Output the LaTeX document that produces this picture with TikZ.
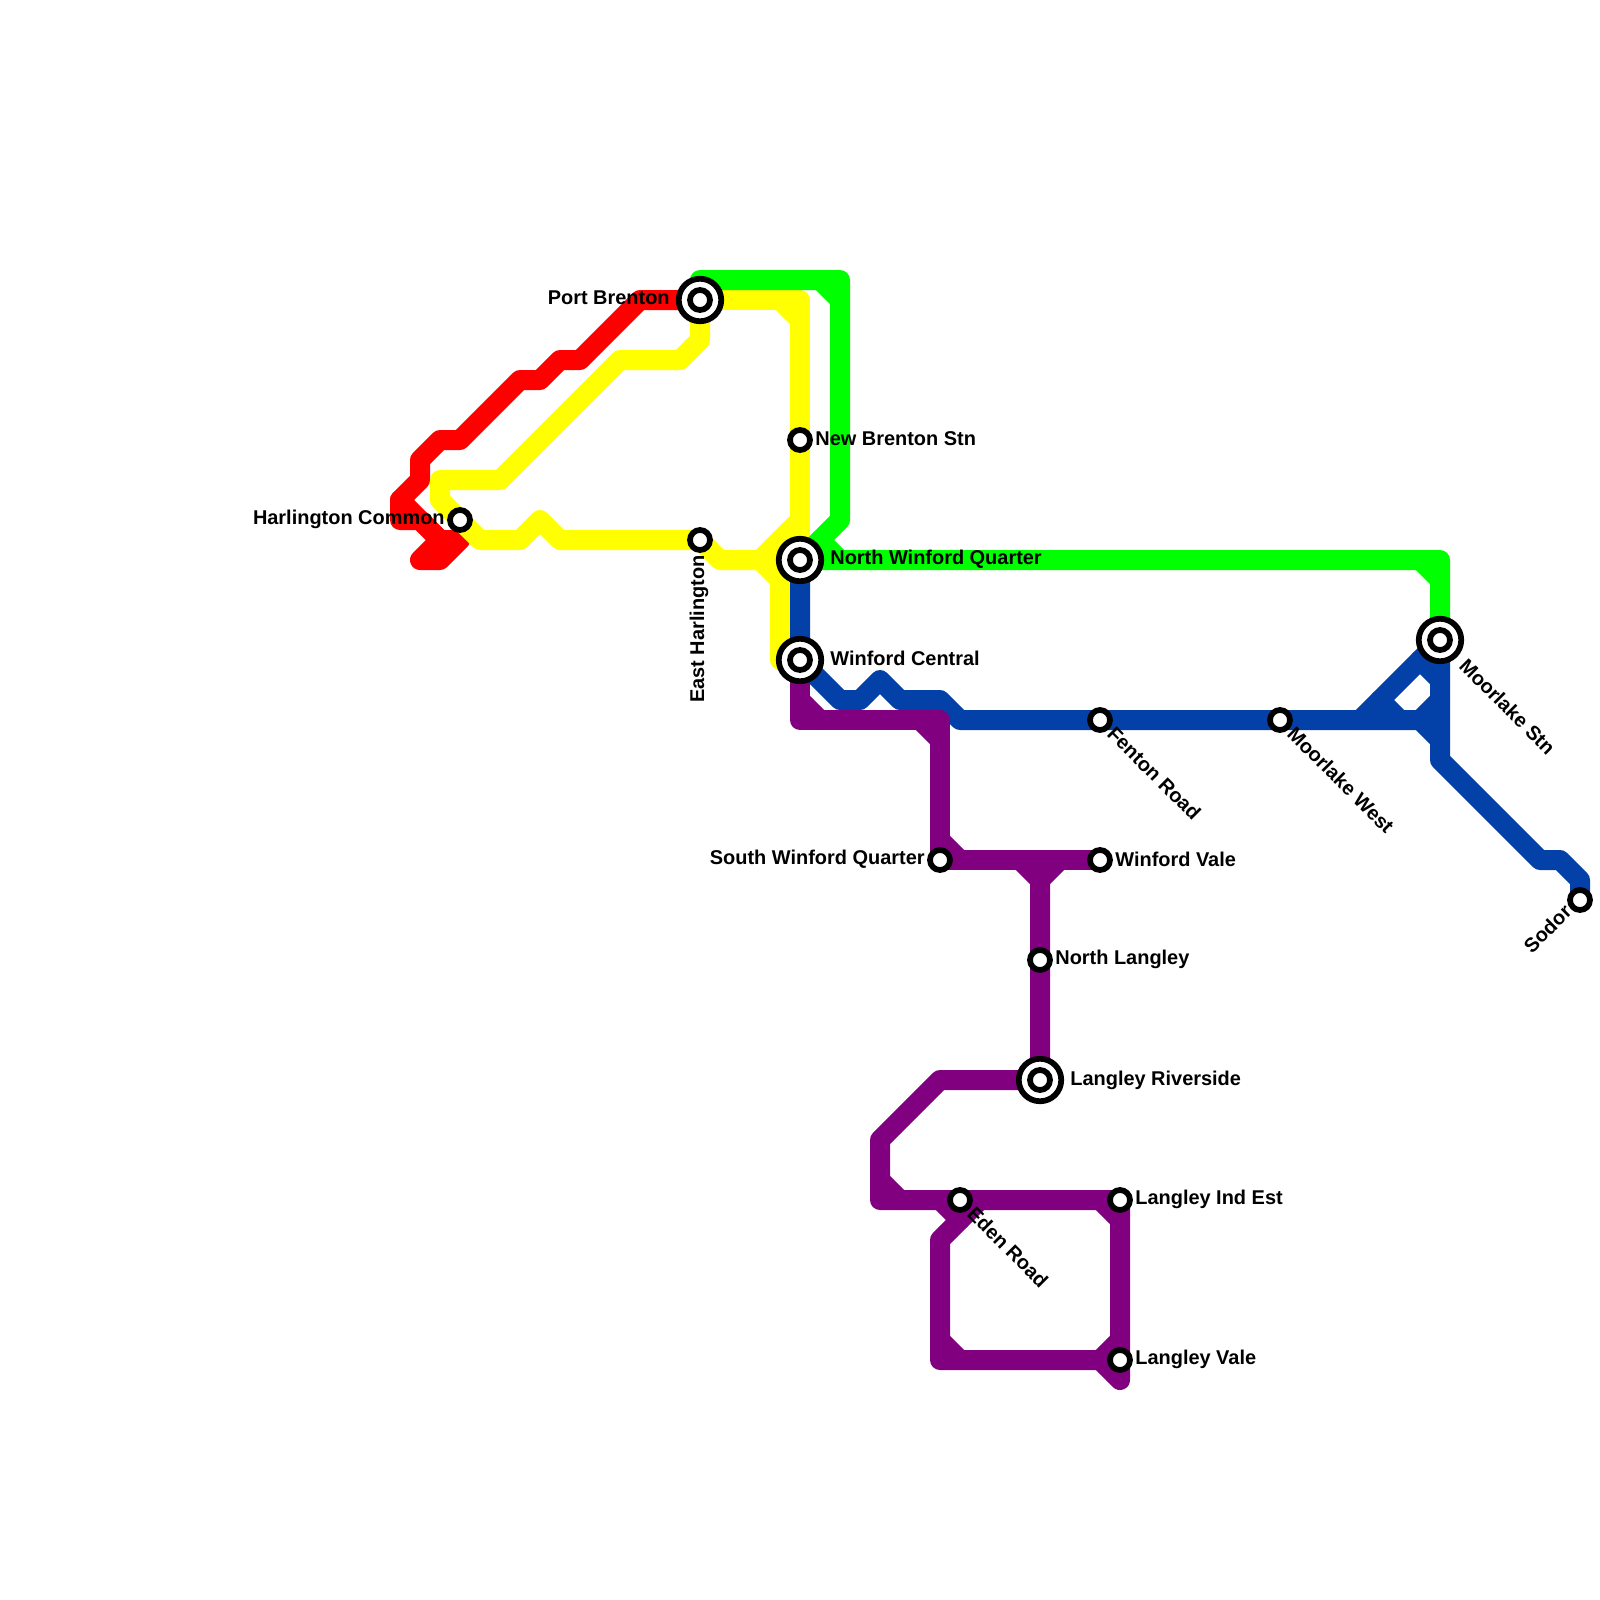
\documentclass[tikz,border=0pt]{standalone}
\usepackage{fontspec}
\setmainfont{Liberation Sans}
\usetikzlibrary{backgrounds}
\definecolor{lineblue}{HTML}{0341A9}
\definecolor{linepurple}{HTML}{800080}
\definecolor{lineyellow}{HTML}{FFFF00}
\definecolor{linegreen}{HTML}{00FF00}
\definecolor{linered}{HTML}{FF0000}
\tikzset{
  stn/.style={circle, draw=black, fill=white, line width=0.115cm, inner sep=0pt, minimum size=0.40cm},
  hub/.style={circle, draw=black, fill=white, line width=0.115cm, inner sep=0pt, minimum size=0.85cm},
  route/.style={line width=0.4cm, line join=round, line cap=round},
  lbl/.style={font=\bfseries\fontsize{11.35pt}{13pt}\selectfont, inner sep=0pt, text=black}
}
\begin{document}
\begin{tikzpicture}[x=0.02cm, y=-0.02cm]
\useasboundingbox (0,0) rectangle (1600,1600);
% interchanges under the small rings
\foreach \n/\x/\y in {portbrenton/700/300,northwinford/800/560,winfordcentral/800/660,moorlakestn/1440/640,langleyriverside/1040/1080} {
  \node[hub] (\n hub) at (\x,\y) {};
}
% all stations
\foreach \n/\x/\y in {portbrenton/700/300,eastharlington/700/540,harlington/460/520,newbrenton/800/440,northwinford/800/560,winfordcentral/800/660,
  fenton/1100/720,moorlakewest/1280/720,moorlakestn/1440/640,sodor/1580/900,southwinford/940/860,winfordvale/1100/860,
  northlangley/1040/960,langleyriverside/1040/1080,eden/960/1200,langleyind/1120/1200,langleyvale/1120/1360} {
  \node[stn] (\n) at (\x,\y) {};
}
\begin{scope}[on background layer]
% red
\draw[route, linered] (portbrenton.center) -- (640,300) -- (580,360) -- (560,360) -- (540,380) -- (520,380) -- (460,440) -- (440,440) -- (420,460) -- (420,480) -- (400,500) -- (440,540) -- (460,540) -- (440,560) -- (420,560) -- (440,540);
\draw[route, linered] (400,500) -- (400,520) -- (420,520) -- (440,540);
% yellow
\draw[route, lineyellow] (portbrenton.center) -- (700,340) -- (680,360) -- (620,360) -- (500,480) -- (440,480) -- (440,500) -- (480,540) -- (520,540) -- (540,520) -- (560,540) -- (eastharlington.center) -- (720,560) -- (northwinford.center);
\draw[route, lineyellow] (portbrenton.center) -- (800,300) -- (newbrenton.center) -- (northwinford.center);
\draw[route, lineyellow] (780,300) -- (800,320);
\draw[route, lineyellow] (800,520) -- (760,560) -- (780,580) -- (780,660) -- (winfordcentral.center);
\draw[route, lineyellow] (780,560) -- (780,580);
% green
\draw[route, linegreen] (portbrenton.center) -- (700,280) -- (840,280) -- (840,520) -- (northwinford.center) -- (1440,560) -- (moorlakestn.center);
\draw[route, linegreen] (820,280) -- (840,300);
\draw[route, linegreen] (820,540) -- (840,560);
\draw[route, linegreen] (1420,560) -- (1440,580);
% blue
\draw[route, lineblue] (northwinford.center) -- (winfordcentral.center) -- (840,700) -- (860,700) -- (880,680) -- (900,700) -- (940,700) -- (960,720) -- (fenton.center) -- (moorlakewest.center) -- (1420,720) -- (1440,740);
\draw[route, lineblue] (moorlakestn.center) -- (1360,720);
\draw[route, lineblue] (moorlakestn.center) -- (1440,760) -- (1540,860) -- (1560,860) -- (1580,880) -- (sodor.center);
\draw[route, lineblue] (1420,660) -- (1440,680);
\draw[route, lineblue] (1440,700) -- (1420,720);
\draw[route, lineblue] (1380,700) -- (1400,720);
% purple
\draw[route, linepurple] (winfordcentral.center) -- (800,720) -- (940,720) -- (southwinford.center) -- (winfordvale.center);
\draw[route, linepurple] (800,700) -- (820,720);
\draw[route, linepurple] (920,720) -- (940,740);
\draw[route, linepurple] (940,840) -- (960,860);
\draw[route, linepurple] (1020,860) -- (1040,880) -- (northlangley.center) -- (langleyriverside.center) -- (940,1080) -- (880,1140) -- (880,1200) -- (langleyind.center) -- (langleyvale.center) -- (1120,1380) -- (1100,1360) -- (940,1360) -- (940,1240) -- (980,1200);
\draw[route, linepurple] (1060,860) -- (1040,880);
\draw[route, linepurple] (880,1180) -- (900,1200);
\draw[route, linepurple] (940,1200) -- (960,1220);
\draw[route, linepurple] (1100,1200) -- (1120,1220);
\draw[route, linepurple] (940,1340) -- (960,1360);
\draw[route, linepurple] (1100,1360) -- (1120,1340);
\end{scope}
% labels
\node[lbl, anchor=east] (portbrentonlbl) at (670,298) {Port Brenton};
\node[lbl, anchor=east] (harlingtonlbl) at (445,519) {Harlington Common};
\node[lbl, anchor=east, rotate=90] (eastharlingtonlbl) at (699,555) {East Harlington};
\node[lbl, anchor=west] (newbrentonlbl) at (815,439) {New Brenton Stn};
\node[lbl, anchor=west] (northwinfordlbl) at (830,559) {North Winford Quarter};
\node[lbl, anchor=west] (winfordcentrallbl) at (830,658) {Winford Central};
\node[lbl, anchor=west, rotate=-45] (fentonlbl) at (1111,730) {Fenton Road};
\node[lbl, anchor=west, rotate=-45] (moorlakewestlbl) at (1291,730) {Moorlake West};
\node[lbl, anchor=west, rotate=-45] (moorlakestnlbl) at (1463,662) {Moorlake Stn};
\node[lbl, anchor=east, rotate=45] (sodorlbl) at (1568,908) {Sodor};
\node[lbl, anchor=east] (southwinfordlbl) at (925,859.5) {South Winford Quarter};
\node[lbl, anchor=west] (winfordvalelbl) at (1115,859) {Winford Vale};
\node[lbl, anchor=west] (northlangleylbl) at (1055,959) {North Langley};
\node[lbl, anchor=west] (langleyriversidelbl) at (1070,1080) {Langley Riverside};
\node[lbl, anchor=west, rotate=-45] (edenlbl) at (971,1210) {Eden Road};
\node[lbl, anchor=west] (langleyindlbl) at (1135,1199) {Langley Ind Est};
\node[lbl, anchor=west] (langleyvalelbl) at (1135,1359) {Langley Vale};
\end{tikzpicture}
\end{document}
